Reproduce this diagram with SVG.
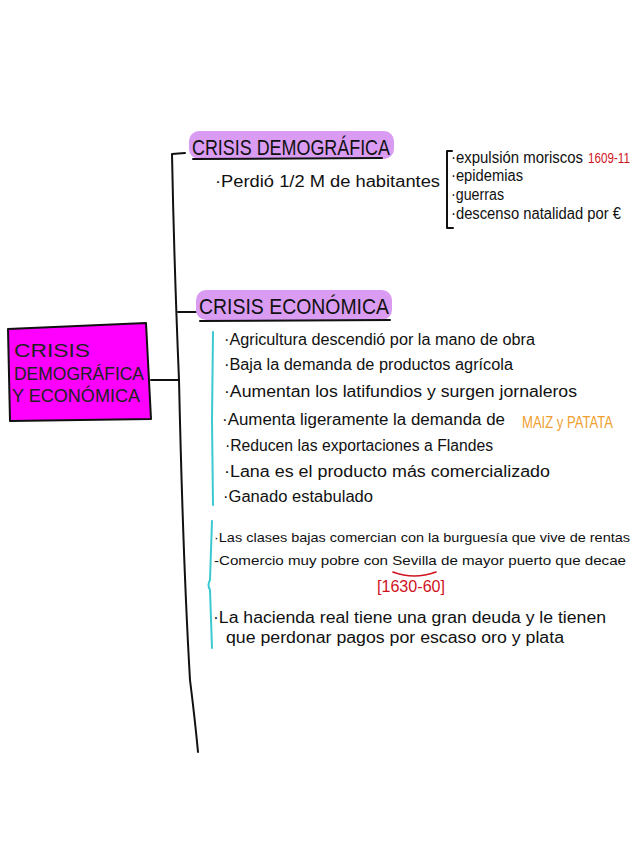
<svg xmlns="http://www.w3.org/2000/svg" width="639" height="848" viewBox="0 0 639 848">
<style>
.t{font-family:"Liberation Sans","DejaVu Sans",sans-serif;font-size:16px;fill:#111}
.s{font-size:13px}
.h{font-family:"Liberation Sans","DejaVu Sans",sans-serif;font-size:22px;fill:#111}
.m{font-family:"Liberation Sans","DejaVu Sans",sans-serif;font-size:19px;fill:#222}
.red{fill:#d0141e}
.org{fill:#f0a030}
.ln{fill:none;stroke:#111;stroke-width:2;stroke-linecap:round;stroke-linejoin:round}
.teal{fill:none;stroke:#3cc8d0;stroke-width:2;stroke-linecap:round}
.hl{fill:#d99cf2}
</style>
<rect width="639" height="848" fill="#fff"/>
<g id="connectors">
<path class="ln" d="M151,380 L178,380"/>
<path class="ln" d="M185,153 L172,154 Q174,260 179,380 Q183,560 190,680 Q195,720 198,752"/>
<path class="ln" d="M178,312 L196,312"/>
<path class="ln" d="M452,151 L447,151 L447,228 L453,228"/>
<path class="teal" d="M213,332 L212,420 L213,505"/>
<path class="teal" d="M212,521 L210,580 Q207,585 210,590 L212,648"/>
</g>
<g id="main">
<path d="M8,329 L146,323 L151,419 L10,421 Z" fill="#f0f" stroke="#111" stroke-width="2" stroke-linejoin="round"/>
<text class="m" x="14" y="357" textLength="76" lengthAdjust="spacingAndGlyphs">CRISIS</text>
<text class="m" x="14" y="380" textLength="130" lengthAdjust="spacingAndGlyphs">DEMOGRÁFICA</text>
<text class="m" x="12" y="402" textLength="128" lengthAdjust="spacingAndGlyphs">Y ECONÓMICA</text>
</g>
<g id="demografica">
<rect class="hl" x="189" y="131" width="205" height="28" rx="10"/>
<text class="h" x="192" y="155" textLength="198" lengthAdjust="spacingAndGlyphs">CRISIS DEMOGRÁFICA</text>
<path class="ln" d="M193,159 L382,158"/>
<text class="t" x="215" y="187" textLength="225" lengthAdjust="spacingAndGlyphs">·Perdió 1/2 M de habitantes</text>
</g>
<g id="causas">
<text class="t" x="451" y="163" textLength="132" lengthAdjust="spacingAndGlyphs">·expulsión moriscos</text>
<text class="t red" style="font-size:14px" x="588" y="163" textLength="42" lengthAdjust="spacingAndGlyphs">1609-11</text>
<text class="t" x="451" y="181" textLength="72" lengthAdjust="spacingAndGlyphs">·epidemias</text>
<text class="t" x="451" y="200" textLength="53" lengthAdjust="spacingAndGlyphs">·guerras</text>
<text class="t" x="451" y="219" textLength="170" lengthAdjust="spacingAndGlyphs">·descenso natalidad por €</text>
</g>
<g id="economica">
<rect class="hl" x="196" y="290" width="196" height="30" rx="10"/>
<text class="h" x="199" y="314" textLength="190" lengthAdjust="spacingAndGlyphs">CRISIS ECONÓMICA</text>
<path class="ln" d="M200,321 L390,320"/>
</g>
<g id="economia-items">
<text class="t" x="224" y="345" textLength="311" lengthAdjust="spacingAndGlyphs">·Agricultura descendió por la mano de obra</text>
<text class="t" x="224" y="370" textLength="289" lengthAdjust="spacingAndGlyphs">·Baja la demanda de productos agrícola</text>
<text class="t" x="224" y="397" textLength="353" lengthAdjust="spacingAndGlyphs">·Aumentan los latifundios y surgen jornaleros</text>
<text class="t" x="222" y="425" textLength="283" lengthAdjust="spacingAndGlyphs">·Aumenta ligeramente la demanda de</text>
<text class="t org" x="522" y="428" textLength="91" lengthAdjust="spacingAndGlyphs">MAIZ y PATATA</text>
<text class="t" x="225" y="451" textLength="268" lengthAdjust="spacingAndGlyphs">·Reducen las exportaciones a Flandes</text>
<text class="t" x="224" y="477" textLength="326" lengthAdjust="spacingAndGlyphs">·Lana es el producto más comercializado</text>
<text class="t" x="223" y="502" textLength="150" lengthAdjust="spacingAndGlyphs">·Ganado estabulado</text>
</g>
<g id="comercio">
<text class="t s" x="214" y="542" textLength="416" lengthAdjust="spacingAndGlyphs">·Las clases bajas comercian con la burguesía que vive de rentas</text>
<text class="t s" x="214" y="565" textLength="412" lengthAdjust="spacingAndGlyphs">-Comercio muy pobre con Sevilla de mayor puerto que decae</text>
<path d="M393,572 Q414,580 436,572" fill="none" stroke="#d0141e" stroke-width="1.6" stroke-linecap="round"/>
<text class="t red" x="377" y="592" textLength="68" lengthAdjust="spacingAndGlyphs">[1630-60]</text>
</g>
<g id="hacienda">
<text class="t" x="213" y="623" textLength="393" lengthAdjust="spacingAndGlyphs">·La hacienda real tiene una gran deuda y le tienen</text>
<text class="t" x="226" y="643" textLength="338" lengthAdjust="spacingAndGlyphs">que perdonar pagos por escaso oro y plata</text>
</g>
</svg>
